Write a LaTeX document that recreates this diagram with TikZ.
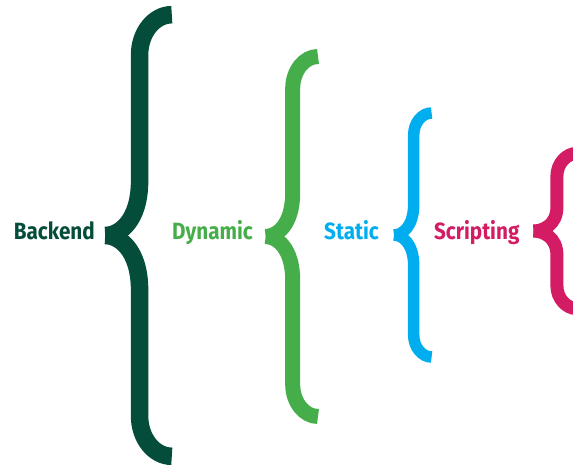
\documentclass[tikz,border=0pt]{standalone}
\usepackage{fontspec}
\setmainfont{Fira Sans}
\newfontfamily\labelfont[FakeStretch=0.88]{Fira Sans}
\usetikzlibrary{positioning}

\definecolor{backendgreen}{HTML}{034D3A}
\definecolor{dynamicgreen}{HTML}{45AD4A}
\definecolor{staticblue}{HTML}{00AEEF}
\definecolor{scriptpink}{HTML}{D31C64}

\tikzset{
    lbl/.style={font=\labelfont\bfseries\fontsize{23.5}{28}\selectfont, inner sep=0pt, anchor=base east},
    % half height, stem x, end x, corner height, start of tip curve
    pics/curly/.style n args={5}{code={
        \foreach \s in {-1,1}
            \draw (#3,\s*#1) .. controls ({#2+0.45*(#3-#2)},\s*#1) and (#2,{\s*(#1-0.45*#4)})
                .. (#2,{\s*(#1-#4)}) -- (#2,\s*#5)
                .. controls (#2,{\s*0.25*#5}) and ({0.4*#2},0) .. (0,0);
    }}
}

\begin{document}
\begin{tikzpicture}[x=1pt, y=-1pt]
        \useasboundingbox (0,0) rectangle (573,465);

        % Draw the labels
        \node[lbl, backendgreen] (backend) at (95,240) {Backend};
        \node[lbl, dynamicgreen] (dynamic) at (253,240) {Dynamic};
        \node[lbl, staticblue]   (static)  at (379,240) {Static};
        \node[lbl, scriptpink]   (scripting) at (519.6,240) {Scripting};

        % Draw the braces
        \pic[backendgreen, line width=17.5pt] at (105.2,235.5) {curly={220.8}{34.4}{66.6}{40}{55}};
        \pic[dynamicgreen, line width=15pt]   at (265.7,236.5) {curly={180}{27}{52.3}{32}{44}};
        \pic[staticblue, line width=11.5pt]   at (394,235)     {curly={122}{19.7}{37.6}{22}{31}};
        \pic[scriptpink, line width=13pt]     at (533.5,231)   {curly={77.7}{23.4}{44}{23}{24}};
    \end{tikzpicture}
\end{document}
